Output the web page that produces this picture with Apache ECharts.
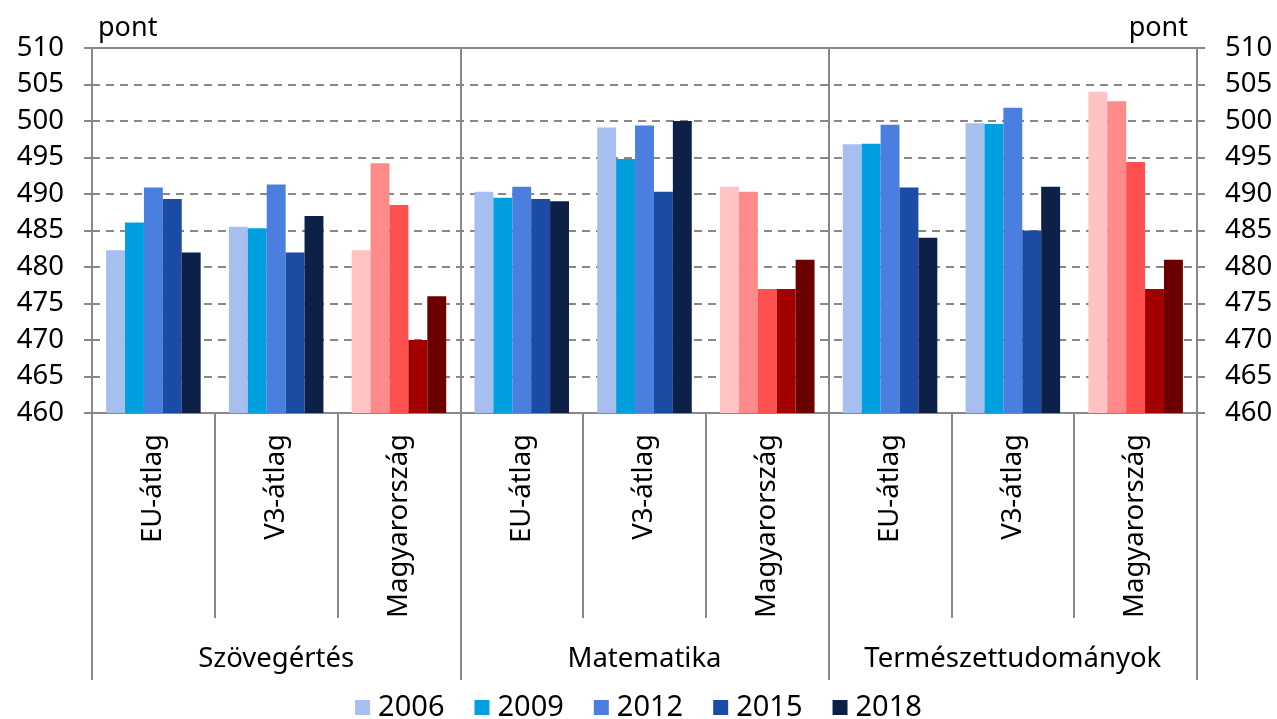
<!DOCTYPE html>
<html>
<head>
<meta charset="utf-8">
<script src="https://cdn.jsdelivr.net/npm/echarts@6/dist/echarts.min.js"></script>
<style>html,body{margin:0;padding:0;background:#fff}#c{width:1277px;height:719px}</style>
</head>
<body>
<div id="c"></div>
<script>
const categories = ['EU-átlag','V3-átlag','Magyarország','EU-átlag','V3-átlag','Magyarország','EU-átlag','V3-átlag','Magyarország'];
const groups = ['Szövegértés','Matematika','Természettudományok'];
const years = ['2006','2009','2012','2015','2018'];
const yTicks = [460,465,470,475,480,485,490,495,500,505,510];
const v2006 = [482.3, 485.5, 482.3, 490.3, 499.1, 491.0, 496.8, 499.7, 504.0];
const v2009 = [486.1, 485.3, 494.2, 489.5, 494.8, 490.3, 496.9, 499.6, 502.7];
const v2012 = [490.9, 491.3, 488.5, 491.0, 499.4, 477.0, 499.5, 501.8, 494.4];
const v2015 = [489.3, 482.0, 470.0, 489.3, 490.3, 477.0, 490.9, 485.0, 477.0];
const v2018 = [482.0, 487.0, 476.0, 489.0, 500.0, 481.0, 484.0, 491.0, 481.0];
const values = [v2006, v2009, v2012, v2015, v2018];
const blueColors = ['#A6BFEE','#009FDF','#4A7FE0','#1B4BA2','#0D2047'];
const redColors = ['#FFC3C3','#FF8A8A','#FF5050','#A30000','#6B0000'];

const FONT = 'Noto Sans';
const chart = echarts.init(document.getElementById('c'));
const series = years.map((y, si) => ({
  name: y,
  type: 'bar',
  barGap: '0%',
  barCategoryGap: '23%',
  itemStyle: { color: blueColors[si] },
  data: values[si].map((v, i) => categories[i] === 'Magyarország'
    ? { value: v, itemStyle: { color: redColors[si] } }
    : v)
}));

const yAxisCommon = {
  type: 'value', min: yTicks[0], max: yTicks[yTicks.length - 1], interval: 5,
  axisLine: { show: true, lineStyle: { color: '#888', width: 2 } },
  axisTick: { show: true, length: 8, lineStyle: { color: '#888', width: 2 } },
  axisLabel: { fontFamily: FONT, fontSize: 27.5, color: '#000', margin: 28 },
  nameTextStyle: { fontFamily: FONT, fontSize: 27, color: '#000', verticalAlign: 'bottom' },
  nameGap: 6
};

chart.setOption({
  animation: false,
  backgroundColor: '#fff',
  textStyle: { fontFamily: FONT },
  grid: { left: 92, right: 80, top: 48, bottom: 306, show: true, borderColor: '#888', borderWidth: 2, containLabel: false },
  legend: {
    data: years,
    top: 693, left: 'center', padding: 0,
    icon: 'rect', itemWidth: 15, itemHeight: 15, itemGap: 30,
    textStyle: { fontFamily: FONT, fontSize: 29, color: '#000', padding: [0, 0, 0, 3] }
  },
  xAxis: [
    {
      type: 'category', data: categories, position: 'bottom',
      axisLine: { show: true, lineStyle: { color: '#888', width: 2 } },
      axisTick: { show: true, interval: 0, length: 205, lineStyle: { color: '#888', width: 2 } },
      axisLabel: { interval: 0, rotate: 90, margin: 21, fontFamily: FONT, fontSize: 27.5, color: '#000' },
      splitLine: { show: false }
    },
    {
      type: 'category', data: groups, position: 'bottom',
      axisLine: { show: false },
      axisTick: { show: true, interval: 0, length: 267, lineStyle: { color: '#888', width: 2 } },
      axisLabel: { interval: 0, margin: 232, fontFamily: FONT, fontSize: 27.5, color: '#000' },
      splitLine: { show: true, interval: 0, lineStyle: { color: '#888', width: 2 } }
    }
  ],
  yAxis: [
    Object.assign({}, yAxisCommon, {
      position: 'left',
      name: 'pont',
      nameTextStyle: Object.assign({}, yAxisCommon.nameTextStyle, { align: 'left', padding: [0,0,0,6] }),
      splitLine: { show: true, lineStyle: { color: '#888', width: 2, type: [8, 6] } }
    }),
    Object.assign({}, yAxisCommon, {
      position: 'right',
      name: 'pont',
      nameTextStyle: Object.assign({}, yAxisCommon.nameTextStyle, { align: 'right', padding: [0,9,0,0] }),
      splitLine: { show: false }
    })
  ],
  series: series
});
</script>
</body>
</html>
